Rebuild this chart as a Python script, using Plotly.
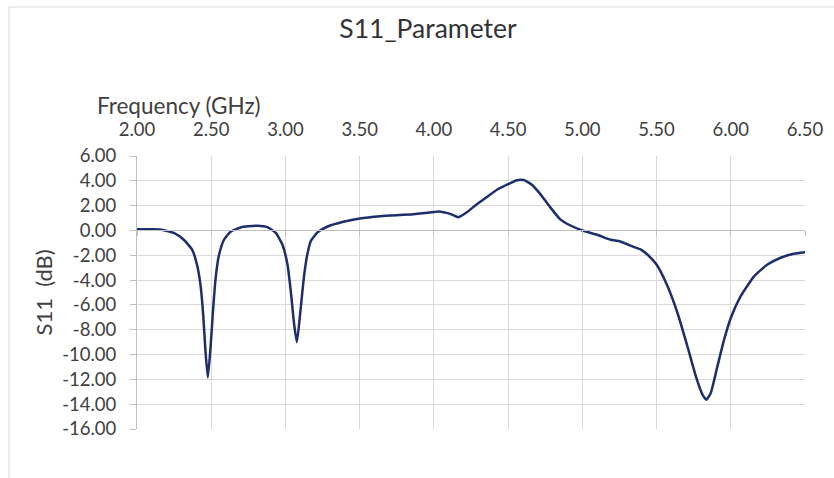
import plotly.graph_objects as go

freq_ghz = [2.00, 2.10, 2.158, 2.248, 2.315, 2.372, 2.405, 2.428, 2.446, 2.46, 2.477,
            2.495, 2.513, 2.53, 2.552, 2.586, 2.63, 2.698, 2.75, 2.81, 2.878, 2.935,
            2.98, 3.014, 3.036, 3.059, 3.077, 3.10, 3.126, 3.148, 3.171, 3.216, 3.284, 3.39, 3.50,
            3.64, 3.86, 4.00, 4.03, 4.11, 4.166, 4.22, 4.29, 4.357, 4.425, 4.50, 4.56, 4.605,
            4.66, 4.717, 4.78, 4.85, 4.91, 5.00, 5.10, 5.19, 5.256, 5.35, 5.395, 5.44, 5.50, 5.574,
            5.641, 5.708, 5.765, 5.81, 5.836, 5.865, 5.91, 5.955, 6.00, 6.067, 6.157, 6.247, 6.336,
            6.425, 6.50]
s11_db = [0.10, 0.10, 0.08, -0.2, -0.75, -1.56, -2.8, -4.4, -6.8, -9.5, -11.85,
          -9.5, -6.3, -3.8, -2.0, -0.75, -0.1, 0.24, 0.33, 0.38, 0.27, -0.2,
          -1.15, -2.77, -4.9, -7.6, -9.0, -6.6, -3.6, -1.9, -0.85, -0.15, 0.32, 0.7, 0.97,
          1.15, 1.3, 1.48, 1.53, 1.34, 1.07, 1.45, 2.12, 2.69, 3.28, 3.73, 4.05, 4.07,
          3.68, 2.93, 1.93, 0.91, 0.46, 0.0, -0.35, -0.75, -0.89, -1.34, -1.54, -1.96, -2.75, -4.5,
          -6.65, -9.34, -11.76, -13.24, -13.64, -13.1, -10.95, -8.8, -7.05, -5.3, -3.7, -2.75, -2.2,
          -1.88, -1.75]

x_ticks = [2.0, 2.5, 3.0, 3.5, 4.0, 4.5, 5.0, 5.5, 6.0, 6.5]
y_ticks = [6, 4, 2, 0, -2, -4, -6, -8, -10, -12, -14, -16]
x_tick_labels = [f"{v:.2f}" for v in x_ticks]
y_tick_labels = [f"{v:.2f}" for v in y_ticks]

FONT = "Lato"
TXT = "#404040"
GRID = "#d9d9d9"
AXIS = "#bfbfbf"

fig = go.Figure()
fig.add_trace(go.Scatter(
    x=freq_ghz, y=s11_db, mode="lines",
    line=dict(color="#1c2e6b", width=2.5, shape="spline", smoothing=0.5),
    showlegend=False, hoverinfo="x+y",
))
# invisible trace to carry the axis at y = 0
fig.add_trace(go.Scatter(x=[x_ticks[0]], y=[0], xaxis="x2", mode="markers",
                         marker=dict(opacity=0), showlegend=False, hoverinfo="skip"))

fig.update_layout(
    width=834, height=478,
    margin=dict(l=137, r=29, t=156, b=49, autoexpand=False),
    paper_bgcolor="white", plot_bgcolor="white",
    font=dict(family=FONT, color=TXT, size=18.5),
    title=dict(text="S11_Parameter", x=428 / 834, xanchor="center", y=1 - 29 / 478, yanchor="middle",
               font=dict(family=FONT, size=26.5, color="#333333")),
    xaxis=dict(
        side="top", range=[2.0, 6.5], tickmode="array", tickvals=x_ticks, ticktext=x_tick_labels,
        showgrid=True, gridcolor=GRID, gridwidth=1, showline=False, zeroline=False,
        ticks="", tickfont=dict(size=18.5, color=TXT), ticklabelstandoff=15, automargin=False,
    ),
    xaxis2=dict(
        overlaying="x", anchor="free", position=16 / 22, side="bottom", range=[2.0, 6.5],
        tickmode="array", tickvals=x_ticks, showticklabels=False, showgrid=False, zeroline=False,
        showline=True, linecolor=AXIS, linewidth=1, ticks="outside", ticklen=5, tickcolor=AXIS,
        automargin=False,
    ),
    yaxis=dict(
        range=[-16, 6], tickmode="array", tickvals=y_ticks, ticktext=y_tick_labels,
        showgrid=True, gridcolor=GRID, gridwidth=1, zeroline=False,
        showline=True, linecolor=AXIS, linewidth=1, ticks="outside", ticklen=6, tickcolor=AXIS,
        tickfont=dict(size=18.5, color=TXT), ticklabelstandoff=10, automargin=False,
    ),
    annotations=[
        dict(text="Frequency (GHz)", xref="paper", yref="paper", x=(95 - 137) / 668, y=(429 - 105) / 273,
             xanchor="left", yanchor="middle", showarrow=False, font=dict(size=22.5, color=TXT)),
        dict(text="S11  (dB)", xref="paper", yref="paper", x=(43 - 137) / 668, y=0.5,
             xanchor="center", yanchor="middle", textangle=-90, showarrow=False,
             font=dict(size=22, color=TXT)),
    ],
    shapes=[dict(type="rect", xref="paper", yref="paper",
                 x0=-(137 - 9) / 668, x1=(850 - 137) / 668, y0=-(500 - 429) / 273, y1=(429 - 7) / 273,
                 line=dict(color="#d9d9d9", width=1), fillcolor="rgba(0,0,0,0)", layer="below")],
)

fig.write_html("out.html", config={"displayModeBar": False},
               post_script="document.body.style.margin='0';document.body.style.padding='0';")
